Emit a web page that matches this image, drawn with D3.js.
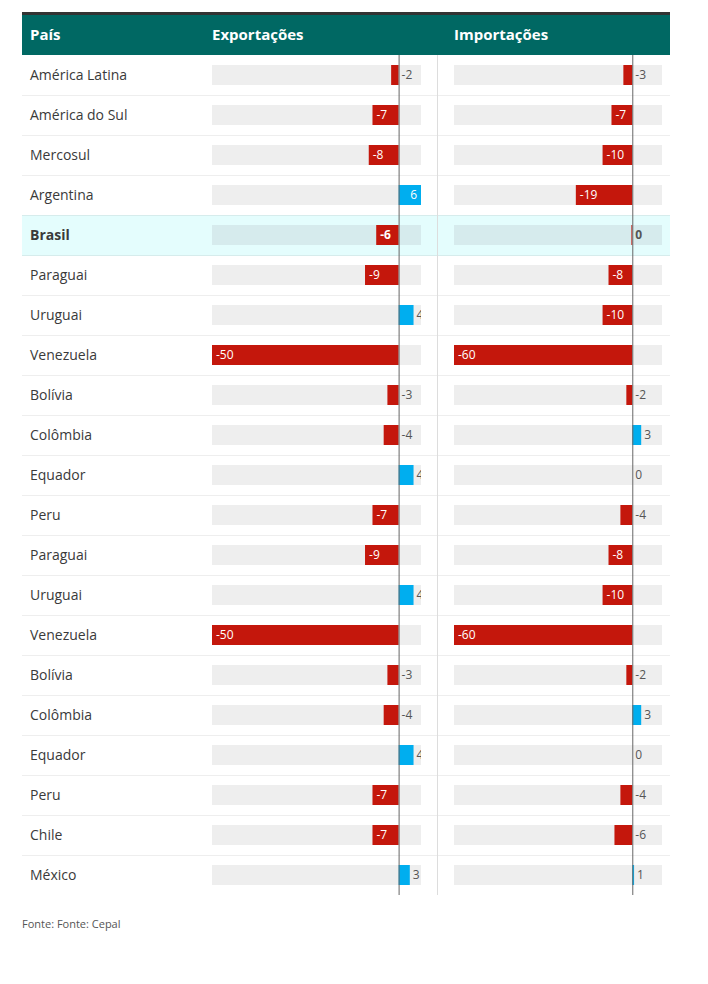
<!DOCTYPE html>
<html>
<head>
<meta charset="utf-8">
<script src="https://cdn.jsdelivr.net/npm/d3@7"></script>
<style>
  html, body { margin: 0; padding: 0; background: #fff; }
  svg { display: block; font-family: "Open Sans", sans-serif; }
</style>
</head>
<body>
<svg id="chart" width="708" height="984"></svg>
<script>
const countries = ["América Latina","América do Sul","Mercosul","Argentina","Brasil","Paraguai","Uruguai","Venezuela","Bolívia","Colômbia","Equador","Peru","Paraguai","Uruguai","Venezuela","Bolívia","Colômbia","Equador","Peru","Chile","México"];
const exportsVals = [-2,-7,-8,6,-6,-9,4,-50,-3,-4,4,-7,-9,4,-50,-3,-4,4,-7,-7,3];
const importsVals = [-3,-7,-10,-19,-0.3,-8,-10,-60,-2,3,0,-4,-8,-10,-60,-2,3,0,-4,-6,0.6];
const highlighted = ["Brasil"];
const headers = ["País","Exportações","Importações"];
const exportDomain = [-50, 6];
const importDomain = [-60, 10];
const source = "Fonte: Fonte: Cepal";

const svg = d3.select("#chart");
const left = 22, right = 670, headTop = 15, headBottom = 55;
const rowH = 40;
const y = d3.scaleBand().domain(d3.range(countries.length)).range([headBottom, headBottom + rowH * countries.length]);
const xE = d3.scaleLinear().domain(exportDomain).range([212, 421]);
const xI = d3.scaleLinear().domain(importDomain).range([454, 662]);
const RED = "#c4170c", BLUE = "#00aeef";

// top border + header
svg.append("rect").attr("x", left).attr("y", 12).attr("width", right - left).attr("height", 3).attr("fill", "#333");
svg.append("rect").attr("x", left).attr("y", headTop).attr("width", right - left).attr("height", headBottom - headTop).attr("fill", "#006863");
const hx = [30, 212, 454];
svg.selectAll("text.head").data(headers).join("text")
  .attr("class", "head")
  .attr("x", (d, i) => hx[i]).attr("y", (headTop + headBottom) / 2)
  .attr("dy", "0.35em")
  .attr("fill", "#fff").attr("font-weight", "bold").attr("font-size", 15)
  .text(d => d);

const rows = svg.append("g").selectAll("g.row").data(countries).join("g")
  .attr("class", "row")
  .attr("transform", (d, i) => `translate(0,${y(i)})`);

rows.filter(d => highlighted.includes(d)).append("rect")
  .attr("x", left).attr("y", 0).attr("width", right - left).attr("height", rowH)
  .attr("fill", "#e4fdfd");

// row separators
svg.append("g").selectAll("line").data(d3.range(1, countries.length)).join("line")
  .attr("x1", left).attr("x2", right)
  .attr("y1", i => y(i) + 0.5).attr("y2", i => y(i) + 0.5)
  .attr("stroke", (i) => (highlighted.includes(countries[i]) || highlighted.includes(countries[i - 1])) ? "#d6ecec" : "#eeeeee");

rows.append("text")
  .attr("x", 30).attr("y", rowH / 2).attr("dy", "0.35em")
  .attr("font-size", 14).attr("fill", "#3a3a3a")
  .attr("font-weight", d => highlighted.includes(d) ? "bold" : "normal")
  .text(d => d);

// defs for clipping
const defs = svg.append("defs");
[["clipE", xE], ["clipI", xI]].forEach(([id, sc]) => {
  defs.append("clipPath").attr("id", id).append("rect")
    .attr("x", sc.range()[0]).attr("y", 0).attr("width", sc.range()[1] - sc.range()[0]).attr("height", 984);
});

function fmt(v) {
  const r = Math.round(v);
  return r === 0 ? "0" : String(r);
}

function drawColumn(values, sc, clipId) {
  const g = svg.append("g").attr("clip-path", `url(#${clipId})`);
  const x0 = sc(0);
  const trackTop = (i) => y(i) + 10;
  g.selectAll("rect.track").data(values).join("rect")
    .attr("class", "track")
    .attr("x", sc.range()[0]).attr("y", (d, i) => trackTop(i))
    .attr("width", sc.range()[1] - sc.range()[0]).attr("height", 20)
    .attr("fill", (d, i) => highlighted.includes(countries[i]) ? "#d6ebed" : "#eeeeee");
  g.selectAll("rect.bar").data(values).join("rect")
    .attr("class", "bar")
    .attr("x", d => Math.min(sc(d), x0)).attr("y", (d, i) => trackTop(i))
    .attr("width", d => Math.abs(sc(d) - x0)).attr("height", 20)
    .attr("fill", d => d < 0 ? RED : BLUE);
  g.selectAll("text.val").data(values).join("text")
    .attr("class", "val")
    .attr("y", (d, i) => trackTop(i) + 10).attr("dy", "0.35em")
    .attr("font-size", 12)
    .attr("font-weight", (d, i) => highlighted.includes(countries[i]) ? "bold" : "normal")
    .each(function (d) {
      const w = Math.abs(sc(d) - x0);
      const t = d3.select(this);
      if (w >= 20) {
        if (d < 0) t.attr("x", sc(d) + 4).attr("text-anchor", "start");
        else t.attr("x", sc(d) - 4).attr("text-anchor", "end");
        t.attr("fill", "#fff");
      } else {
        t.attr("x", (d > 0 ? sc(d) : x0) + 3).attr("text-anchor", "start").attr("fill", "#555");
      }
    })
    .text(d => fmt(d));
  // zero line
  svg.append("line")
    .attr("x1", x0 + 0.5).attr("x2", x0 + 0.5)
    .attr("y1", headBottom).attr("y2", y.range()[1])
    .attr("stroke", "#666").attr("stroke-width", 1);
}

drawColumn(exportsVals, xE, "clipE");
drawColumn(importsVals, xI, "clipI");

// column separator
svg.append("line")
  .attr("x1", 437.5).attr("x2", 437.5)
  .attr("y1", headBottom).attr("y2", y.range()[1])
  .attr("stroke", "#dddddd");

svg.append("text")
  .attr("x", left).attr("y", 924).attr("dy", "0.35em")
  .attr("font-size", 11).attr("fill", "#555")
  .text(source);
</script>
</body>
</html>
